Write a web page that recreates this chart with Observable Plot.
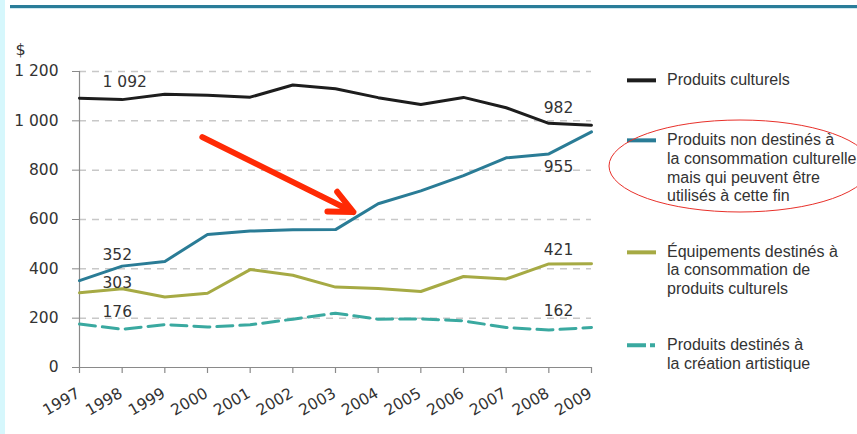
<!DOCTYPE html>
<html><head><meta charset="utf-8">
<script src="https://cdn.jsdelivr.net/npm/d3@7"></script>
<script src="https://cdn.jsdelivr.net/npm/@observablehq/plot@0.6"></script>
<style>
html,body{margin:0;padding:0;background:#fff;}
body{width:857px;height:434px;overflow:hidden;position:relative;font-family:"Liberation Sans",Arial,sans-serif;}
#strip{position:absolute;left:0;top:0;width:5px;height:434px;background:#d6f7fc;}
#topline{position:absolute;left:10px;top:5px;right:0;height:3px;background:#2a7d99;box-shadow:0 1px 0 #cfe8ef;}
#chart{position:absolute;left:0;top:0;}
.leg{position:absolute;left:627px;font-size:16px;line-height:18.7px;color:#333;}
.leg svg{position:absolute;left:0;top:0;}
.leg .t{position:absolute;left:40px;top:0;white-space:nowrap;}
#over{position:absolute;left:0;top:0;pointer-events:none;}
</style>
</head><body>
<div id="strip"></div>
<div id="topline"></div>
<div id="chart"></div>
<div id="legend"></div>
<svg id="over" width="857" height="434"></svg>
<script>
// ---- data ----
const years = [1997,1998,1999,2000,2001,2002,2003,2004,2005,2006,2007,2008,2009];
const yTicks = [0,200,400,600,800,1000,1200];
const seriesNames = [
  "Produits culturels",
  "Produits non destinés à la consommation culturelle mais qui peuvent être utilisés à cette fin",
  "Équipements destinés à la consommation de produits culturels",
  "Produits destinés à la création artistique"
];
const legendLines = [
  ["Produits culturels"],
  ["Produits non destinés à","la consommation culturelle","mais qui peuvent être","utilisés à cette fin"],
  ["Équipements destinés à","la consommation de","produits culturels"],
  ["Produits destinés à","la création artistique"]
];
const culturels   = [1092,1086,1108,1104,1096,1145,1130,1094,1066,1095,1053,990,982];
const nonDestines = [352,411,430,539,553,558,559,664,716,778,850,866,955];
const equipements = [303,319,286,301,397,374,326,320,308,369,359,420,421];
const creation    = [176,155,174,164,173,196,220,196,197,189,162,152,162];
const yUnit = "$";
// annotation arrow (in data units: year, dollars)
const arrowFrom = {year:1999.88, value:934};
const arrowTo   = {year:2003.42, value:630};

// ---- styles ----
const colors = ["#1d1d1d","#2a7c96","#a6aa44","#3aa9a0"];
const dashes = [null,null,null,"16,7"];
const legendDashes = [null,null,null,"19,4,5"];
const leftDy = [-16.4,-25.5,-9.6,-12];
const rightDy = [-17,34.6,-13.7,-16.7];
const legendTops = [80.5,140.5,252,345.5];

const allValues = [culturels,nonDestines,equipements,creation];
const fmt = v => d3.format(",")(v).replace(/,/g," ");
const numFont = "DejaVu Sans, sans-serif";

const marks = [
  Plot.gridY(yTicks.filter(d=>d>0), {stroke:"#c8c8c8", strokeOpacity:1, strokeWidth:1.5, strokeDasharray:"7,6"}),
  Plot.ruleX([1997], {y1:0, y2:1200, stroke:"#8a8a8a", strokeWidth:1.2}),
  Plot.ruleY([0], {stroke:"#8a8a8a", strokeWidth:1.2}),
  Plot.axisY(yTicks, {tickSize:7, tickPadding:14, tickFormat:fmt, stroke:"#8a8a8a", fill:"#333"}),
  Plot.axisX(years, {tickSize:6, tickFormat:()=>"", stroke:"#8a8a8a", strokeWidth:1.2}),
  Plot.text([yUnit], {frameAnchor:"top-left", dx:-64, dy:-28, textAnchor:"start", fill:"#333", fontSize:16}),
  // rotated year labels
  Plot.text(years, {x:d=>d, y:()=>0, text:d=>String(d), rotate:-30, textAnchor:"end", lineAnchor:"middle", dx:-1, dy:24.5, fill:"#333"})
];
allValues.forEach((vals,k)=>{
  const rows = vals.map((v,i)=>({year:years[i], value:v}));
  marks.push(Plot.line(rows, {x:"year", y:"value", stroke:colors[k], strokeWidth:3, strokeDasharray:dashes[k]||undefined, strokeLinejoin:"round"}));
});
allValues.forEach((vals,k)=>{
  const first = {year:years[0], value:vals[0]};
  const last = {year:years[years.length-1], value:vals[vals.length-1]};
  marks.push(Plot.text([first], {x:"year", y:"value", text:d=>fmt(d.value), textAnchor:"start", dx:23, dy:leftDy[k], fill:"#333"}));
  marks.push(Plot.text([last], {x:"year", y:"value", text:d=>fmt(d.value), textAnchor:"middle", dx:-33, dy:rightDy[k], fill:"#333"}));
});
marks.push(Plot.arrow([{}], {x1:()=>arrowFrom.year, y1:()=>arrowFrom.value, x2:()=>arrowTo.year, y2:()=>arrowTo.value, stroke:"#ff2a05", strokeWidth:6, headLength:6.5, headAngle:50}));

const chart = Plot.plot({
  width:857, height:434,
  marginLeft:79, marginRight:266, marginTop:71, marginBottom:67,
  style:{fontFamily:numFont, fontSize:"15.5px", color:"#333", background:"transparent", overflow:"visible"},
  x:{domain:[1997,2009], label:null},
  y:{domain:[0,1200], label:null},
  marks
});
document.getElementById("chart").appendChild(chart);

// legend
const lg = document.getElementById("legend");
legendLines.forEach((lines,k)=>{
  const d = document.createElement("div");
  d.className = "leg";
  d.style.top = (legendTops[k]-9.35)+"px";
  const dash = legendDashes[k] ? `stroke-dasharray="${legendDashes[k]}"` : "";
  d.innerHTML = `<svg width="30" height="19"><line x1="0" x2="29" y1="9.35" y2="9.35" stroke="${colors[k]}" stroke-width="4" ${dash}/></svg><div class="t">${lines.join("<br>")}</div>`;
  d.title = seriesNames[k];
  lg.appendChild(d);
});
// ellipse highlight around the second legend item
const over = document.getElementById("over");
over.innerHTML = `<ellipse cx="740" cy="166" rx="131" ry="46" fill="none" stroke="#e8302a" stroke-width="1"/>`;
</script>
</body></html>
